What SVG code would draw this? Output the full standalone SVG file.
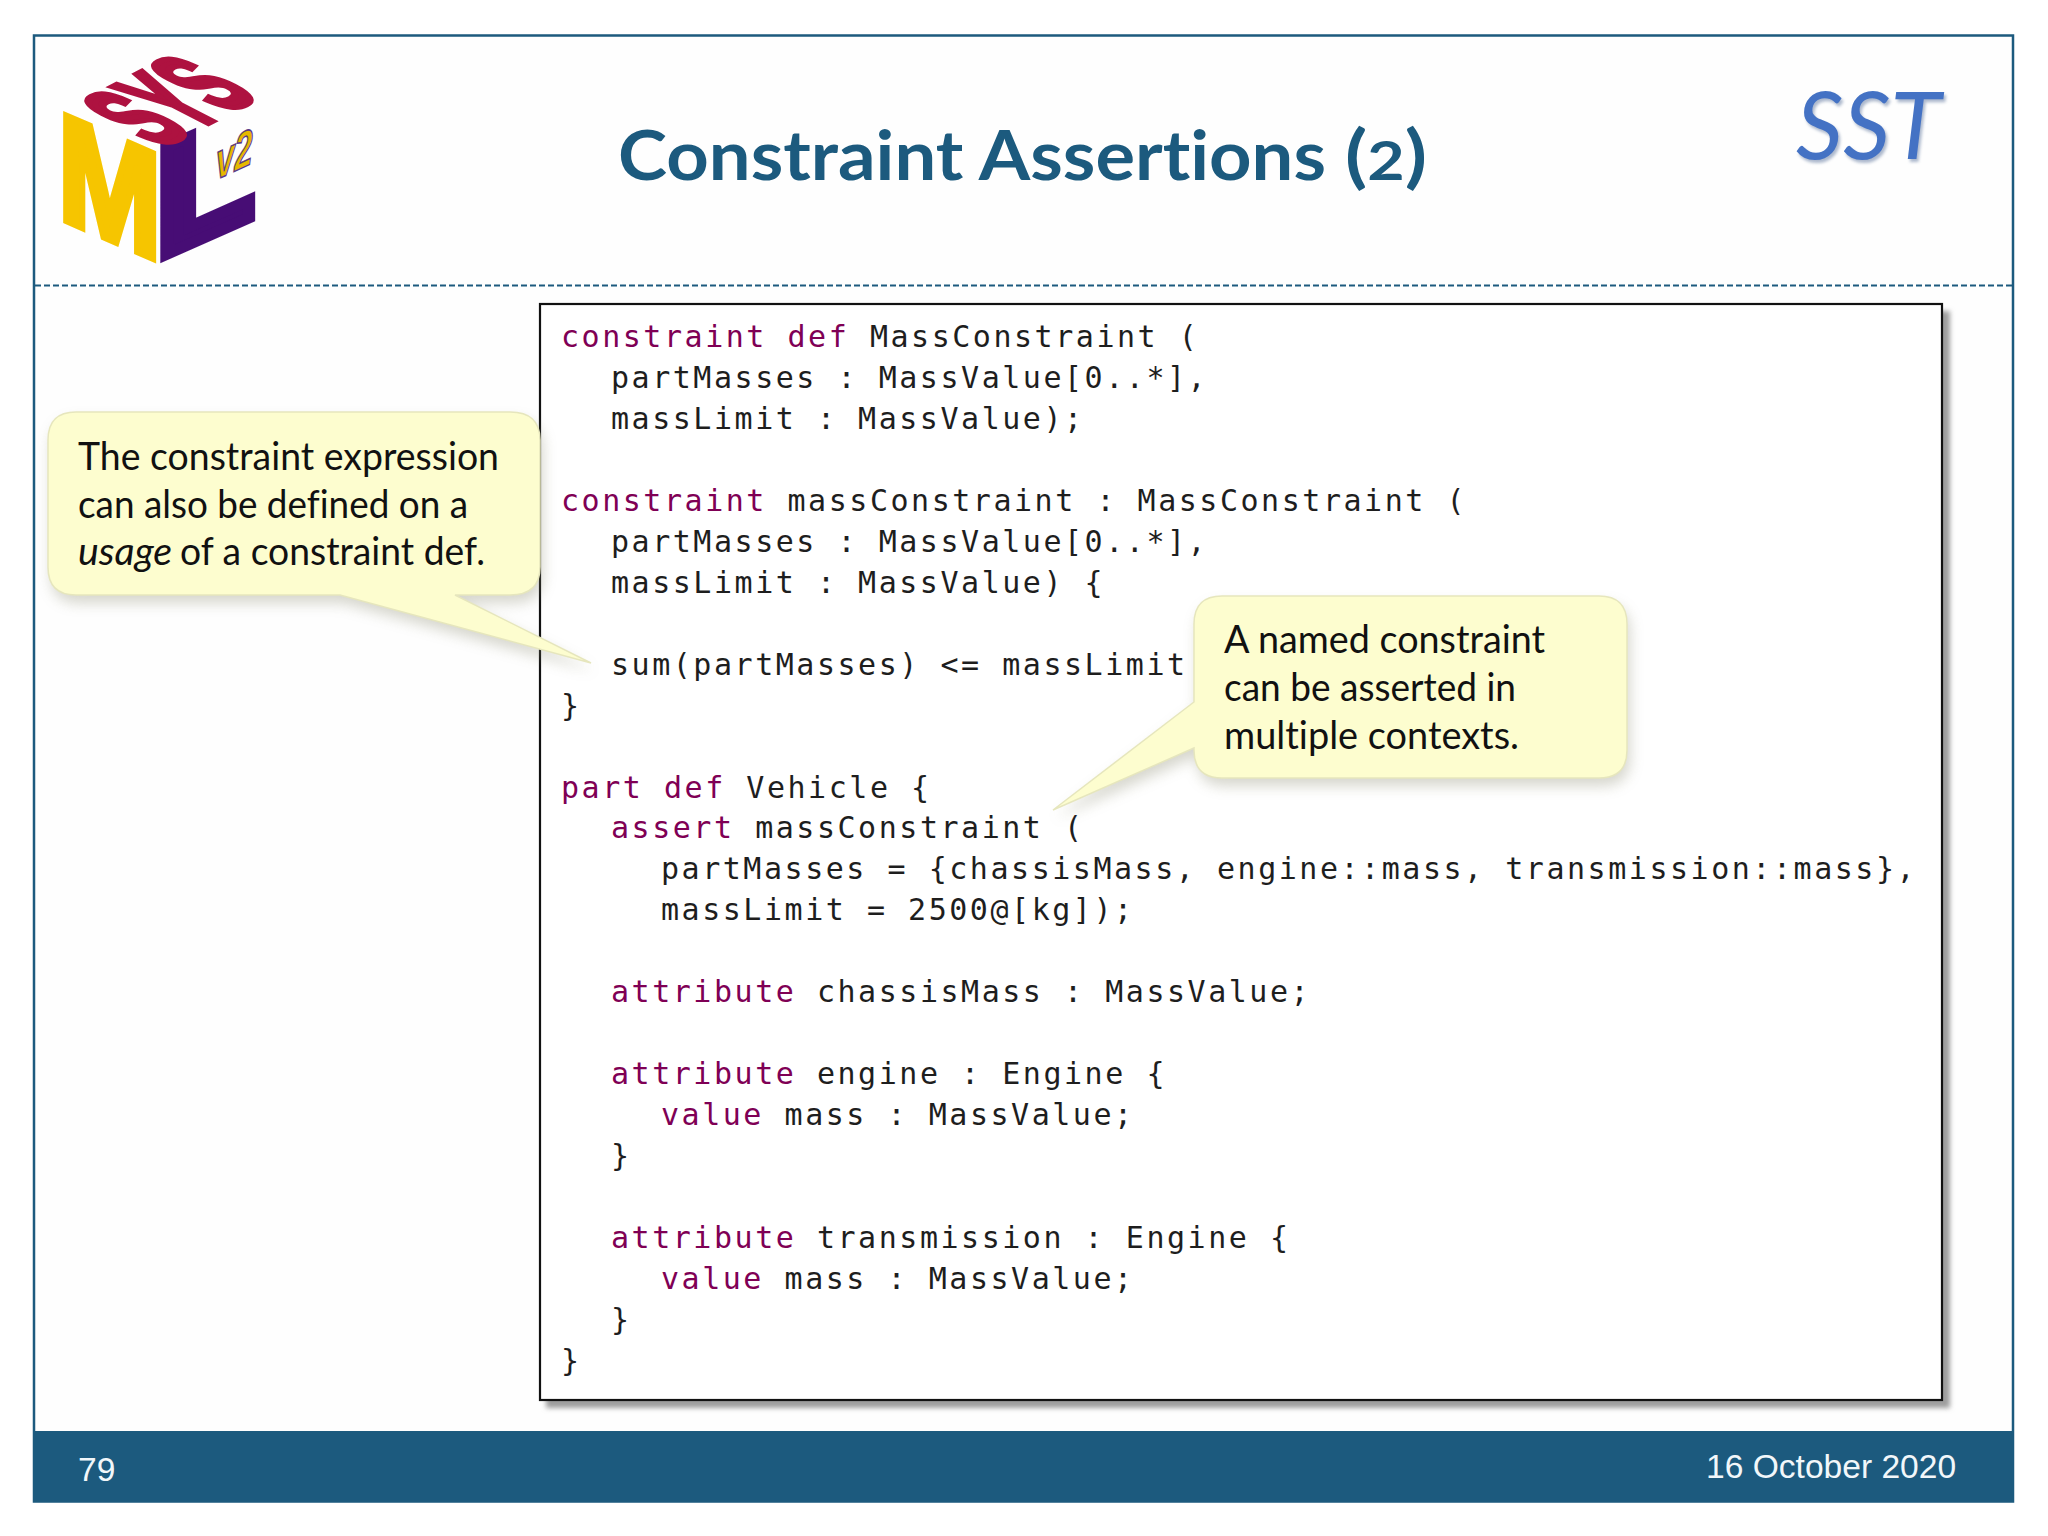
<svg xmlns="http://www.w3.org/2000/svg" width="2048" height="1536" viewBox="0 0 2048 1536">
<style>
.code{font-family:"DejaVu Sans Mono",monospace;font-size:30px;letter-spacing:2.53px;fill:#1e1e1e}
.kw{fill:#7f0055}
.note{font-family:"Lato","Open Sans",sans-serif;font-size:38px;fill:#111;font-variant-ligatures:none}
.bubble{fill:#fdfdcf;stroke:#e6e6bd;stroke-width:1.5}
.foot{font-family:"Liberation Sans",Arial,sans-serif;font-size:33.6px;fill:#f2f7fa}
.logo{font-family:"Liberation Sans",Arial,sans-serif;font-weight:bold;font-size:100px}
.title{font-family:Lato,"Open Sans",sans-serif;font-weight:bold;font-size:68px;fill:#1c5a7e;font-variant-ligatures:none}
</style>
<defs>
<filter id="boxShadow" x="-3%" y="-3%" width="106%" height="106%"><feGaussianBlur stdDeviation="2.5"/></filter>
<filter id="noteShadow" x="-10%" y="-15%" width="120%" height="135%"><feGaussianBlur stdDeviation="7"/></filter>
<filter id="sstShadow" x="-10%" y="-10%" width="120%" height="120%"><feGaussianBlur stdDeviation="1.5"/></filter>
</defs>
<rect width="2048" height="1536" fill="#fff"/>
<g id="frame">
<rect x="34" y="35.5" width="1979" height="1466" fill="#fefefe" stroke="#1c5a7e" stroke-width="2.5"/>
<line x1="35" y1="285.5" x2="2012" y2="285.5" stroke="#1c5a7e" stroke-width="2" stroke-dasharray="6 3"/>
<rect x="33" y="1431" width="1980" height="71" fill="#1c5a7e"/>
</g>
<g id="logo">
<text class="logo" fill="#f6c500" stroke="#f6c500" stroke-width="5" transform="matrix(1.24 .54 0 1.52 58 217)">M</text>
<text class="logo" fill="#470d75" stroke="#470d75" stroke-width="8" transform="matrix(1.6 -.71 0 1.56 156 259)">L</text>
<text class="logo" fill="#ae1240" stroke="#ae1240" stroke-width="6" transform="matrix(.5 -.26 1.2 .62 160 148)">SYS</text>
<text class="logo" fill="#e6b800" stroke="#5b3a86" stroke-width="1" font-style="italic" style="font-size:33px" transform="matrix(1 -.46 0 1.55 216 180)">v2</text>
</g>
<g id="title">
<text class="title" x="618" y="180" textLength="708" lengthAdjust="spacingAndGlyphs">Constraint Assertions</text>
<text class="title" x="1345" y="180" textLength="82" lengthAdjust="spacingAndGlyphs">(<tspan style="font-size:54px">2</tspan>)</text>
</g>
<g id="sst">
<text x="1796" y="160" font-family="Lato,sans-serif" font-style="italic" font-size="94" fill="#8a9bb8" opacity=".7" filter="url(#sstShadow)" textLength="145" lengthAdjust="spacingAndGlyphs" transform="translate(2 2)">SST</text>
<text x="1796" y="159" font-family="Lato,sans-serif" font-style="italic" font-size="94" fill="#4472c4" textLength="145" lengthAdjust="spacingAndGlyphs">SST</text>
</g>
<g id="code-box">
<rect x="546" y="311" width="1404" height="1097" fill="#9d9d9d" filter="url(#boxShadow)"/>
<rect x="540" y="304" width="1402" height="1096" fill="#fff" stroke="#111" stroke-width="2.2"/>
<text class="code" xml:space="preserve">
<tspan class="kw" x="561" y="347">constraint def</tspan><tspan> MassConstraint (</tspan>
<tspan x="611" y="388">partMasses : MassValue[0..*],</tspan>
<tspan x="611" y="429">massLimit : MassValue);</tspan>
<tspan class="kw" x="561" y="511">constraint</tspan><tspan> massConstraint : MassConstraint (</tspan>
<tspan x="611" y="552">partMasses : MassValue[0..*],</tspan>
<tspan x="611" y="593">massLimit : MassValue) {</tspan>
<tspan x="611" y="675">sum(partMasses) &lt;= massLimit</tspan>
<tspan x="561" y="716">}</tspan>
<tspan class="kw" x="561" y="798">part def</tspan><tspan> Vehicle {</tspan>
<tspan class="kw" x="611" y="838">assert</tspan><tspan> massConstraint (</tspan>
<tspan x="661" y="879">partMasses = {chassisMass, engine::mass, transmission::mass},</tspan>
<tspan x="661" y="920">massLimit = 2500@[kg]);</tspan>
<tspan class="kw" x="611" y="1002">attribute</tspan><tspan> chassisMass : MassValue;</tspan>
<tspan class="kw" x="611" y="1084">attribute</tspan><tspan> engine : Engine {</tspan>
<tspan class="kw" x="661" y="1125">value</tspan><tspan> mass : MassValue;</tspan>
<tspan x="611" y="1166">}</tspan>
<tspan class="kw" x="611" y="1248">attribute</tspan><tspan> transmission : Engine {</tspan>
<tspan class="kw" x="661" y="1289">value</tspan><tspan> mass : MassValue;</tspan>
<tspan x="611" y="1330">}</tspan>
<tspan x="561" y="1371">}</tspan>
</text>
</g>
<g id="note-left">
<path d="M76 412H510Q540 412 540 440V567Q540 595 510 595H455L591 663L340 595H76Q48 595 48 567V440Q48 412 76 412Z" fill="#8a8a70" opacity=".35" filter="url(#noteShadow)" transform="translate(3 8)"/>
<path class="bubble" d="M76 412H510Q540 412 540 440V567Q540 595 510 595H455L591 663L340 595H76Q48 595 48 567V440Q48 412 76 412Z"/>
<text class="note" x="78" y="470" textLength="421" lengthAdjust="spacingAndGlyphs">The constraint expression</text>
<text class="note" x="78" y="518" textLength="390" lengthAdjust="spacingAndGlyphs">can also be defined on a</text>
<text class="note" x="78" y="565" font-style="italic" textLength="94" lengthAdjust="spacingAndGlyphs">usage</text>
<text class="note" x="180" y="565" textLength="305" lengthAdjust="spacingAndGlyphs">of a constraint def.</text>
</g>
<g id="note-right">
<path d="M1222 596H1599Q1627 596 1627 624V750Q1627 778 1599 778H1222Q1194 778 1194 750V748L1053 810L1194 702V624Q1194 596 1222 596Z" fill="#8a8a70" opacity=".35" filter="url(#noteShadow)" transform="translate(3 8)"/>
<path class="bubble" d="M1222 596H1599Q1627 596 1627 624V750Q1627 778 1599 778H1222Q1194 778 1194 750V748L1053 810L1194 702V624Q1194 596 1222 596Z"/>
<text class="note" x="1224" y="653" textLength="321" lengthAdjust="spacingAndGlyphs">A named constraint</text>
<text class="note" x="1224" y="701" textLength="292" lengthAdjust="spacingAndGlyphs">can be asserted in</text>
<text class="note" x="1224" y="749" textLength="295" lengthAdjust="spacingAndGlyphs">multiple contexts.</text>
</g>
<g id="footer">
<text class="foot" x="78" y="1481">79</text>
<text class="foot" x="1706" y="1478">16 October 2020</text>
</g>
</svg>
